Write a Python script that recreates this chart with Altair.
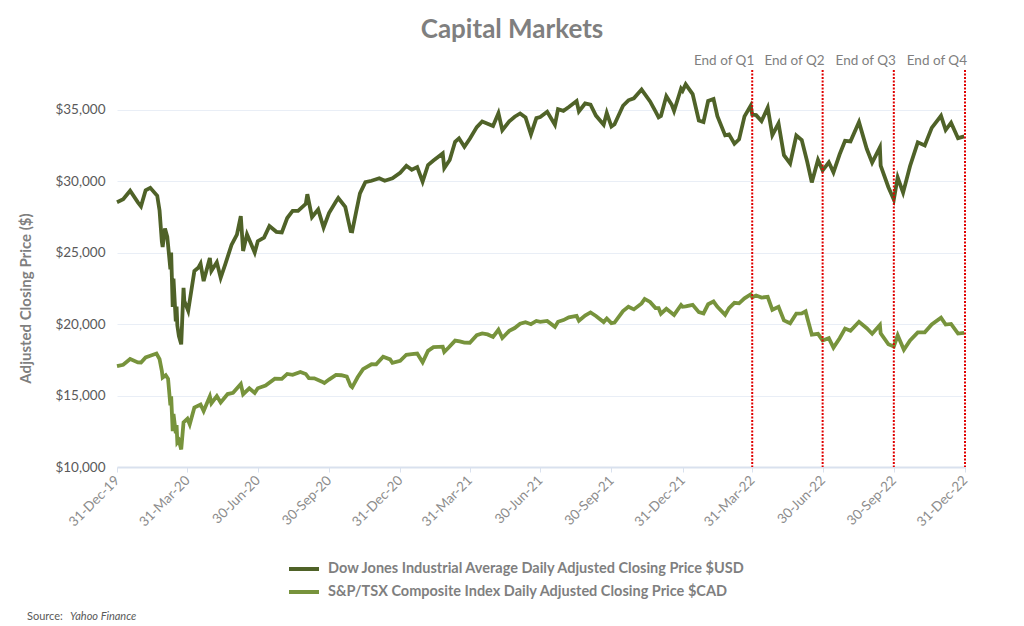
import altair as alt
import pandas as pd

FONT = "Lato"

dow_dates = [
"2019-12-31","2020-01-08","2020-01-17","2020-01-27","2020-01-31","2020-02-06","2020-02-12","2020-02-21","2020-02-24","2020-02-27",
"2020-02-28","2020-03-02","2020-03-05","2020-03-09","2020-03-10","2020-03-12","2020-03-13","2020-03-16","2020-03-17","2020-03-18",
"2020-03-20","2020-03-23","2020-03-26","2020-03-27","2020-04-01","2020-04-06","2020-04-09","2020-04-14","2020-04-17","2020-04-21",
"2020-04-29","2020-05-01","2020-05-08","2020-05-13","2020-05-19","2020-05-27","2020-06-03","2020-06-08","2020-06-11","2020-06-16",
"2020-06-26","2020-06-30","2020-07-08","2020-07-15","2020-07-24","2020-07-31","2020-08-07","2020-08-14","2020-08-21","2020-08-31",
"2020-09-02","2020-09-08","2020-09-16","2020-09-23","2020-09-30","2020-10-09","2020-10-12","2020-10-21","2020-10-28","2020-10-30",
"2020-11-04","2020-11-09","2020-11-16","2020-11-24","2020-12-04","2020-12-11","2020-12-21","2020-12-31","2021-01-08","2021-01-15",
"2021-01-22","2021-01-29","2021-02-05","2021-02-12","2021-02-24","2021-02-26","2021-03-05","2021-03-12","2021-03-17","2021-03-24",
"2021-03-31","2021-04-09","2021-04-16","2021-04-23","2021-04-30","2021-05-07","2021-05-12","2021-05-21","2021-05-28","2021-06-04",
"2021-06-11","2021-06-18","2021-06-25","2021-06-30","2021-07-09","2021-07-19","2021-07-23","2021-07-30","2021-08-06","2021-08-16",
"2021-08-19","2021-08-27","2021-09-03","2021-09-10","2021-09-20","2021-09-24","2021-09-30","2021-10-04","2021-10-15","2021-10-22",
"2021-10-29","2021-11-08","2021-11-19","2021-11-26","2021-11-30","2021-12-03","2021-12-10","2021-12-17","2021-12-20","2021-12-29",
"2021-12-31","2022-01-04","2022-01-13","2022-01-21","2022-01-27","2022-02-02","2022-02-09","2022-02-14","2022-02-24","2022-03-01",
"2022-03-08","2022-03-14","2022-03-21","2022-03-29","2022-03-31","2022-04-05","2022-04-12","2022-04-20","2022-04-26","2022-05-04",
"2022-05-11","2022-05-19","2022-05-27","2022-06-03","2022-06-10","2022-06-16","2022-06-24","2022-06-30","2022-07-08","2022-07-14",
"2022-07-22","2022-07-29","2022-08-05","2022-08-16","2022-08-26","2022-09-02","2022-09-12","2022-09-13","2022-09-23","2022-09-30",
"2022-10-05","2022-10-12","2022-10-21","2022-10-31","2022-11-09","2022-11-18","2022-11-30","2022-12-06","2022-12-13","2022-12-22",
"2022-12-30"]
dow_values = [
28538,28745,29348,28535,28256,29379,29551,28992,27961,25767,
25409,26703,26121,23851,25018,21200,23185,20189,21237,19899,
19174,18592,22552,21637,20943,22680,23719,23949,24242,23019,
24634,23724,24331,23247,24206,25548,26270,27572,25128,26290,
25016,25813,26067,26870,26470,26428,27433,27931,27930,28430,
29100,27501,28032,26763,27782,28587,28838,28211,26520,26502,
27848,29158,29950,30046,30218,30046,30216,30606,31098,30814,
30997,29983,31148,31458,31961,30932,31496,32779,33015,32420,
32982,33801,34200,34043,33875,34778,33587,34208,34529,34756,
34480,33290,34433,34503,34870,33962,35061,34935,35208,35625,
34894,35455,35369,34607,33970,34798,33844,34002,35295,35677,
35820,36432,35602,34899,34484,34580,35971,35365,34932,36488,
36338,36800,36114,34265,34160,35629,35768,34567,33223,33294,
32632,32945,34553,35294,34678,34641,34220,35160,33240,34061,
31834,31253,33213,32900,31393,29927,31501,30775,31338,30630,
31899,32845,32803,34152,32283,31318,32381,31105,29590,28726,
30273,29211,31082,32733,32514,33746,34590,33596,34108,33027,
33147]

tsx_dates = [
"2019-12-31","2020-01-08","2020-01-17","2020-01-27","2020-01-31","2020-02-06","2020-02-12","2020-02-20","2020-02-24","2020-02-27",
"2020-02-28","2020-03-03","2020-03-06","2020-03-09","2020-03-10","2020-03-12","2020-03-13","2020-03-16","2020-03-17","2020-03-18",
"2020-03-20","2020-03-23","2020-03-26","2020-03-31","2020-04-03","2020-04-09","2020-04-17","2020-04-21","2020-04-29","2020-05-01",
"2020-05-08","2020-05-13","2020-05-22","2020-05-29","2020-06-08","2020-06-11","2020-06-19","2020-06-26","2020-06-30","2020-07-10",
"2020-07-22","2020-07-31","2020-08-07","2020-08-14","2020-08-24","2020-08-31","2020-09-04","2020-09-11","2020-09-21","2020-09-24",
"2020-09-30","2020-10-09","2020-10-16","2020-10-23","2020-10-28","2020-10-30","2020-11-06","2020-11-13","2020-11-24","2020-11-30",
"2020-12-09","2020-12-18","2020-12-21","2020-12-31","2021-01-08","2021-01-15","2021-01-22","2021-01-29","2021-02-05","2021-02-12",
"2021-02-24","2021-02-26","2021-03-04","2021-03-12","2021-03-18","2021-03-24","2021-03-31","2021-04-09","2021-04-16","2021-04-23",
"2021-04-30","2021-05-07","2021-05-12","2021-05-21","2021-05-28","2021-06-04","2021-06-11","2021-06-18","2021-06-25","2021-06-30",
"2021-07-09","2021-07-19","2021-07-23","2021-07-30","2021-08-06","2021-08-16","2021-08-19","2021-08-27","2021-09-03","2021-09-10",
"2021-09-20","2021-09-24","2021-09-30","2021-10-04","2021-10-15","2021-10-22","2021-10-29","2021-11-08","2021-11-12","2021-11-19",
"2021-11-26","2021-11-30","2021-12-03","2021-12-10","2021-12-20","2021-12-29","2021-12-31","2022-01-04","2022-01-13","2022-01-21",
"2022-01-27","2022-02-02","2022-02-09","2022-02-14","2022-02-24","2022-03-01","2022-03-08","2022-03-14","2022-03-21","2022-03-29",
"2022-03-31","2022-04-05","2022-04-12","2022-04-20","2022-04-26","2022-05-04","2022-05-11","2022-05-19","2022-05-27","2022-06-03",
"2022-06-08","2022-06-10","2022-06-16","2022-06-24","2022-06-30","2022-07-08","2022-07-14","2022-07-22","2022-07-29","2022-08-05",
"2022-08-16","2022-08-26","2022-09-02","2022-09-12","2022-09-13","2022-09-23","2022-09-30","2022-10-05","2022-10-13","2022-10-21",
"2022-10-31","2022-11-09","2022-11-18","2022-11-30","2022-12-06","2022-12-13","2022-12-22","2022-12-30"]
tsx_values = [
17063,17160,17559,17325,17318,17673,17788,17944,17548,16717,
16263,16423,16175,14315,14942,12508,13716,12360,12932,11721,
11852,11228,13130,13379,12985,14166,14375,13917,14947,14466,
14967,14513,15110,15193,15815,15097,15513,15189,15515,15701,
16189,16169,16519,16458,16652,16514,16218,16209,15976,15883,
16121,16454,16426,16330,15678,15580,16283,16852,17194,17190,
17725,17535,17288,17433,17859,17909,17942,17337,18136,18392,
18430,18060,18384,18851,18795,18708,18701,19228,19351,19283,
19108,19610,19032,19532,19731,20032,20138,20001,20226,20166,
20227,19813,20168,20288,20478,20575,20237,20604,20821,20576,
20152,20402,20070,20109,20918,21216,21037,21455,21768,21557,
21126,21128,20736,21075,20649,21347,21223,21243,21358,20843,
20756,21395,21588,21220,20657,21130,21500,21460,21810,22087,
21890,22012,21864,21914,21010,21221,20266,20065,20748,20757,
20897,20475,19270,19322,18861,19024,18362,19019,19693,19541,
20169,19718,19331,19944,19368,18594,18444,19218,18206,18860,
19426,19433,19980,20453,19972,20019,19340,19385]

series_names = ["Dow Jones Industrial Average Daily Adjusted Closing Price $USD",
                "S&P/TSX Composite Index Daily Adjusted Closing Price $CAD"]
series_colors = ["#4f6228", "#77933c"]

quarter_dates = ["2022-03-31", "2022-06-30", "2022-09-30", "2022-12-31"]
quarter_labels = ["End of Q1", "End of Q2", "End of Q3", "End of Q4"]

y_ticks = [10000, 15000, 20000, 25000, 30000, 35000]
x_tick_dates = [(2019, 12, 31), (2020, 3, 31), (2020, 6, 30), (2020, 9, 30), (2020, 12, 31),
                (2021, 3, 31), (2021, 6, 30), (2021, 9, 30), (2021, 12, 31),
                (2022, 3, 31), (2022, 6, 30), (2022, 9, 30), (2022, 12, 31)]

df = pd.concat([
    pd.DataFrame({"date": dow_dates, "value": dow_values, "series": series_names[0]}),
    pd.DataFrame({"date": tsx_dates, "value": tsx_values, "series": series_names[1]}),
])
qdf = pd.DataFrame({"date": quarter_dates, "label": quarter_labels})
src = pd.DataFrame({"a": ["Source:"], "b": ["Yahoo Finance"]})

xscale = alt.Scale(type="utc",
                   domain=[alt.DateTime(year=2019, month=12, date=31, utc=True),
                           alt.DateTime(year=2022, month=12, date=31, utc=True)])
yscale = alt.Scale(domain=[10000, 37800], nice=False, zero=False)

xaxis = alt.Axis(values=[alt.DateTime(year=y, month=m, date=d, utc=True) for (y, m, d) in x_tick_dates],
                 format="%d-%b-%y", labelAngle=315, labelAlign="right", labelBaseline="middle",
                 labelFont=FONT, labelFontSize=13.5, labelColor="#8c8c8c", labelPadding=6,
                 domainColor="#d9e1ee", domainWidth=2, tickColor="#d9e1ee", tickSize=5,
                 grid=False, title=None, labelOverlap=False)
yaxis = alt.Axis(values=y_ticks, format="$,.0f", labelFont=FONT, labelFontSize=13.5,
                 labelColor="#595959", labelPadding=12, ticks=False, domain=False,
                 grid=True, gridColor="#e9eef6", gridWidth=1,
                 title="Adjusted Closing Price ($)", titleFont=FONT, titleFontSize=15,
                 titleFontWeight="bold", titleColor="#7f7f7f", titleX=-92, titleY=228,
                 titleAngle=270, titleBaseline="middle", titleAlign="center")

lines = alt.Chart(df).mark_line(strokeWidth=3.8).encode(
    x=alt.X("date:T", scale=xscale, axis=xaxis),
    y=alt.Y("value:Q", scale=yscale, axis=yaxis),
    color=alt.Color("series:N",
                    scale=alt.Scale(domain=series_names, range=series_colors),
                    legend=alt.Legend(orient="none", legendX=175, legendY=487, title=None,
                                      direction="vertical",
                                      symbolType="M-1.5,0H1.5", symbolSize=400,
                                      symbolStrokeWidth=4, labelOffset=12,
                                      labelFont=FONT, labelFontSize=14.5, labelFontWeight="bold",
                                      labelColor="#7f7f7f", labelLimit=600, rowPadding=3)),
)

rules = alt.Chart(qdf).mark_rule(color="#e00000", strokeWidth=2, strokeDash=[2, 1.5]).encode(
    x=alt.X("date:T", scale=xscale),
    y=alt.value(0), y2=alt.value(397),
)

qtext = alt.Chart(qdf).mark_text(align="right", baseline="middle", dx=2, font=FONT,
                                 fontSize=13.5, color="#7f7f7f").encode(
    x=alt.X("date:T", scale=xscale),
    y=alt.value(-9),
    text="label:N",
)

src_a = alt.Chart(src).mark_text(align="left", baseline="middle", font=FONT, fontSize=11,
                                 color="#595959").encode(
    x=alt.value(-90), y=alt.value(547), text="a:N")
src_b = alt.Chart(src).mark_text(align="left", baseline="middle", font=FONT, fontSize=11,
                                 fontStyle="italic", color="#595959").encode(
    x=alt.value(-47), y=alt.value(547), text="b:N")

chart = alt.layer(lines, rules, qtext, src_a, src_b).properties(
    width=848, height=397,
    padding={"left": 117, "top": 70, "right": 59, "bottom": 159},
    autosize=alt.AutoSizeParams(type="none"),
    title=alt.TitleParams("Capital Markets", font=FONT, fontSize=26, fontWeight="bold",
                          color="#7f7f7f", anchor="middle", dx=-29, frame="group", offset=11),
).configure_view(stroke=None)

chart.save("out.html", embed_options={"renderer": "svg", "actions": False})
